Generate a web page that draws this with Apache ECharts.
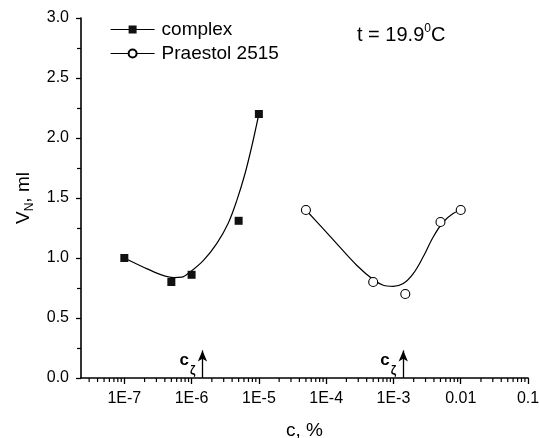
<!DOCTYPE html>
<html>
<head>
<meta charset="utf-8">
<style>
  html, body { margin: 0; padding: 0; background: #fff; }
  #chart { width: 539px; height: 438px; }
</style>
<script src="https://cdn.jsdelivr.net/npm/echarts@6/dist/echarts.min.js"></script>
</head>
<body>
<div id="chart"></div>
<script>
// Measured points: concentration c (%) and sediment volume V_N (ml)
const complexPoints = [[1e-7, 1.00], [5e-7, 0.80], [1e-6, 0.86], [5e-6, 1.31], [1e-5, 2.20]];
const praestolPoints = [[5e-5, 1.40], [5e-4, 0.80], [1.5e-3, 0.70], [5e-3, 1.30], [1e-2, 1.40]];

// Fitted trend curves
const complexFit = [
  [1e-7, 1.00], [1.9e-7, 0.925], [3.4e-7, 0.864], [5.4e-7, 0.837], [7.1e-7, 0.84],
  [9.5e-7, 0.883], [1.5e-6, 0.98], [2.36e-6, 1.12], [3.5e-6, 1.29], [4.7e-6, 1.48],
  [6.2e-6, 1.70], [7.8e-6, 1.925], [1e-5, 2.20]
];
const praestolFit = [
  [5e-5, 1.40], [9e-5, 1.245], [1.6e-4, 1.09], [2.84e-4, 0.94], [5e-4, 0.82],
  [7.05e-4, 0.773], [9.9e-4, 0.764], [1.4e-3, 0.787], [1.97e-3, 0.87], [2.77e-3, 1.01],
  [3.9e-3, 1.175], [5.5e-3, 1.30], [7.7e-3, 1.37], [1e-2, 1.40]
];

// Critical concentrations c_zeta marked with arrows
const zetaMarks = [1.45e-6, 1.4e-3];
const arrowTop = 0.23;

// Axis ranges
const xMin = 2.27e-8, xMax = 0.1;
const yMin = 0, yMax = 3, yStep = 0.5;

const FONT = "'Liberation Sans', Arial, sans-serif";

// Minor log ticks at 2..9 x 10^k inside the axis range
const minorTickValues = [];
for (let k = -8; k <= -2; k++) {
  for (let m = 2; m <= 9; m++) {
    const v = m * Math.pow(10, k);
    if (v > xMin && v < xMax) minorTickValues.push([v, 0]);
  }
}

function xLabel(v) {
  const e = Math.round(Math.log10(v));
  if (e >= -2) return String(Math.pow(10, e).toFixed(-e));
  return '1E' + e;
}

const chart = echarts.init(document.getElementById('chart'), null, { renderer: 'canvas' });

chart.setOption({
  animation: false,
  backgroundColor: '#fff',
  textStyle: { fontFamily: FONT, color: '#000' },
  grid: { left: 81, right: 11, top: 18, bottom: 60, containLabel: false, outerBoundsMode: 'none' },
  title: {
    text: 't = 19.9{sup|0}C',
    left: 357, top: 23, padding: 0,
    textStyle: {
      fontFamily: FONT, fontSize: 20, fontWeight: 'normal', color: '#000', lineHeight: 24,
      rich: {
        sup: { fontFamily: FONT, fontSize: 12, color: '#000', verticalAlign: 'top', lineHeight: 14 }
      }
    }
  },
  legend: {
    orient: 'vertical',
    left: 110, top: 20, padding: 0,
    itemWidth: 44, itemHeight: 10, itemGap: 5,
    data: ['complex', 'Praestol 2515'],
    textStyle: { fontFamily: FONT, fontSize: 19, color: '#000', padding: [0, 0, 0, 2] },
    lineStyle: { width: 1.2, color: '#000', opacity: 1, type: 'solid' }
  },
  xAxis: {
    type: 'log', logBase: 10, min: xMin, max: xMax,
    name: 'c, %', nameLocation: 'middle', nameGap: 43,
    nameTextStyle: { fontFamily: FONT, fontSize: 19, color: '#000' },
    axisLine: { lineStyle: { color: '#000', width: 1.6 } },
    axisTick: { show: true, inside: false, length: 6, lineStyle: { color: '#000', width: 1.3 } },
    axisLabel: {
      fontFamily: FONT, fontSize: 16, color: '#000', margin: 13,
      showMinLabel: false, formatter: xLabel
    },
    splitLine: { show: false },
    minorTick: { show: false }
  },
  yAxis: {
    type: 'value', min: yMin, max: yMax, interval: yStep,
    name: 'V{sub|N}, ml', nameLocation: 'middle', nameGap: 44, nameRotate: 90,
    nameTextStyle: {
      fontFamily: FONT, fontSize: 19, color: '#000', lineHeight: 24,
      rich: { sub: { fontFamily: FONT, fontSize: 12, color: '#000', verticalAlign: 'bottom', lineHeight: 14 } }
    },
    axisLine: { show: true, lineStyle: { color: '#000', width: 1.6 } },
    axisTick: { show: true, inside: false, length: 5, lineStyle: { color: '#000', width: 1.3 } },
    minorTick: { show: true, splitNumber: 2, length: 4, lineStyle: { color: '#000', width: 1.2 } },
    axisLabel: {
      fontFamily: FONT, fontSize: 16, color: '#000', margin: 12,
      formatter: v => v.toFixed(1)
    },
    splitLine: { show: false }
  },
  series: [
    {
      name: 'complex fit', type: 'line', data: complexFit,
      smooth: 0.35, showSymbol: false, silent: true,
      lineStyle: { color: '#000', width: 1.2 }, z: 2
    },
    {
      name: 'Praestol fit', type: 'line', data: praestolFit,
      smooth: 0.35, showSymbol: false, silent: true,
      lineStyle: { color: '#000', width: 1.2 }, z: 2
    },
    {
      name: 'complex', type: 'line', data: complexPoints,
      symbol: 'rect', symbolSize: 8, showSymbol: true,
      itemStyle: { color: '#111', borderColor: '#111', borderWidth: 0 },
      lineStyle: { opacity: 0, width: 0 }, z: 3,
      markLine: {
        silent: true, symbol: ['none', 'arrow'], symbolSize: [7, 11],
        lineStyle: { color: '#000', width: 1.3, type: 'solid' },
        label: { show: false },
        data: zetaMarks.map(x => [{ coord: [x, 0] }, { coord: [x, arrowTop] }])
      },
      markPoint: {
        silent: true, symbol: 'circle', symbolSize: 0,
        label: {
          show: true, formatter: 'c{s|ζ}', offset: [-15, 2],
          fontFamily: FONT, fontSize: 17, fontWeight: 'bold', color: '#000', lineHeight: 20,
          rich: { s: { fontFamily: FONT, fontSize: 12, color: '#000', verticalAlign: 'bottom', lineHeight: 12, padding: [0, 0, -6, 1] } }
        },
        data: zetaMarks.map(x => ({ coord: [x, 0.16], value: '' }))
      }
    },
    {
      name: 'Praestol 2515', type: 'line', data: praestolPoints,
      symbol: 'circle', symbolSize: 9, showSymbol: true,
      itemStyle: { color: '#fff', borderColor: '#000', borderWidth: 1.1 },
      lineStyle: { opacity: 0, width: 0 }, z: 3
    },
    {
      name: 'minor ticks', type: 'custom', data: minorTickValues, silent: true, clip: false,
      encode: { x: 0, y: 1 },
      renderItem: function (params, api) {
        const p = api.coord([api.value(0), 0]);
        return {
          type: 'line',
          shape: { x1: p[0], y1: p[1], x2: p[0], y2: p[1] + 4 },
          style: { stroke: '#000', lineWidth: 1.2 }
        };
      },
      z: 1
    }
  ]
});
</script>
</body>
</html>
